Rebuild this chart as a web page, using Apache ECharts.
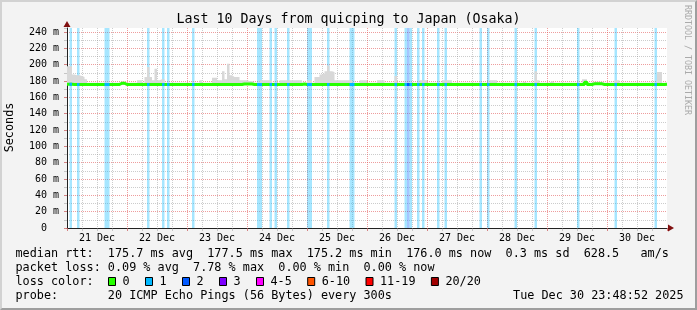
<!DOCTYPE html>
<html><head><meta charset="utf-8">
<script src="https://cdn.jsdelivr.net/npm/echarts@6/dist/echarts.min.js"></script>
<style>
html,body{margin:0;padding:0;background:#f3f3f3;}
#wrap{position:relative;width:697px;height:310px;overflow:hidden;}
#c{width:697px;height:310px;}
#frame{position:absolute;left:0;top:0;width:697px;height:310px;box-sizing:border-box;border-style:solid;border-width:2px;border-color:#d2d2d2 #9e9e9e #9e9e9e #d2d2d2;pointer-events:none;}
</style></head><body>
<div id="wrap"><div id="c"></div><div id="frame"></div></div>
<script>
// ---------------- data ----------------
const dayLabels = ['21 Dec','22 Dec','23 Dec','24 Dec','25 Dec','26 Dec','27 Dec','28 Dec','29 Dec','30 Dec'];
const yTicks = [0,20,40,60,80,100,120,140,160,180,200,220,240];
const yTickLabels = ['0  ','20 m','40 m','60 m','80 m','100 m','120 m','140 m','160 m','180 m','200 m','220 m','240 m'];

// hourly median rtt (ms), 240 hours
const medianRtt = [
175.9,175.9,175.7,175.7,175.7,175.7,175.7,175.7,175.7,175.7,175.7,175.7,175.7,175.7,175.7,175.7,175.7,175.7,175.7,175.7,175.7,177.3,177.3,175.7,
175.7,175.7,175.7,175.7,175.7,175.7,175.7,175.7,175.7,175.7,175.7,175.7,175.7,175.7,175.7,175.7,175.7,175.7,175.7,175.7,175.7,175.7,175.7,175.7,
175.7,175.7,175.7,175.7,175.7,175.7,175.7,175.7,175.7,175.7,175.7,175.7,175.7,175.7,175.7,175.7,175.7,175.7,175.7,175.7,175.7,175.7,176.4,176.4,
176.4,176.4,175.7,175.7,175.7,175.7,175.7,175.7,175.7,175.7,175.7,175.7,175.7,175.7,175.7,175.7,175.7,175.7,175.7,175.7,175.7,175.7,176.3,175.7,
175.7,175.7,175.7,175.7,175.7,175.7,175.7,175.7,175.7,175.7,175.7,175.7,175.7,175.7,175.7,175.7,175.7,175.7,175.7,175.7,175.7,175.7,175.7,175.7,
175.7,175.7,175.7,175.7,175.7,175.7,175.7,175.7,175.7,175.7,175.7,175.7,175.7,175.7,175.7,175.7,175.7,175.7,175.7,175.7,175.7,175.7,175.7,175.7,
175.7,175.7,175.7,175.7,175.7,175.7,175.7,175.7,175.7,175.7,175.7,175.7,175.7,175.7,175.7,175.7,175.7,175.7,175.7,175.7,175.7,175.7,175.7,175.7,
175.7,175.7,175.7,175.7,175.7,175.7,175.7,175.7,175.7,175.7,175.7,175.7,175.7,175.7,175.7,175.7,175.7,175.7,175.7,175.7,175.7,175.7,175.7,175.7,
175.7,175.7,175.7,175.7,175.7,175.7,175.7,175.7,175.7,175.7,175.7,175.7,175.7,175.7,175.7,178.5,175.7,175.7,176.5,176.5,176.5,176.5,175.7,175.7,
175.7,175.7,175.7,175.7,175.7,175.7,175.7,175.7,175.7,175.7,175.7,175.7,175.7,175.7,175.7,175.7,175.7,175.7,175.7,175.7,175.7,175.7,175.7,176.0
];

// hourly top of the smoke (highest ping, ms)
const smokeTop = [
198,198,188,187,187,186,185,182,178,178,178,178,178,178,178,178,178,178,178,178,178,179,179,178,
178,178,178,178,181,181,178,185,197,185,181,195,181,182,182,178,178,178,178,178,178,178,178,178,
178,178,178,178,178,181,178,178,178,178,184,184,181,181,192,182,201,187,185,185,185,181,181,181,
180,180,178,178,178,181,181,181,181,181,178,178,178,181,181,181,181,181,181,181,181,181,178,178,
181,181,178,185,185,188,189,192,199,192,191,181,181,181,181,181,181,181,178,178,178,181,181,181,
178,178,178,178,181,181,181,178,178,178,178,186,178,178,178,178,178,178,178,178,178,181,181,181,
178,178,178,178,178,178,181,181,181,181,178,178,178,178,178,178,178,178,178,178,178,178,178,178,
178,181,181,181,178,178,178,178,178,178,178,178,178,178,179,178,178,178,178,192,181,178,178,178,
178,180,178,178,178,178,178,178,178,178,178,178,178,178,182,182,178,178,179,179,179,179,178,178,
178,178,178,181,181,178,178,178,178,178,178,178,178,178,178,178,178,178,178,178,191,191,178,178
];

// [hour, lost pings out of 20]
const lossEvents = [
[1,1],[4,1],[15,1],[16,1],[32,1],[38,1],[40,1],[50,1],[76,1],[77,1],[81,1],[83,1],[88,1],
[96,1],[97,1],[104,1],[113,1],[114,1],[131,1],[135,1],[136,2],[137,1],[140,1],[142,1],
[148,1],[151,1],[165,1],[168,1],[179,1],[187,1],[204,1],[219,1],[235,1]
];

const lossLegend = ['0','1','2','3','4-5','6-10','11-19','20/20'];
const lossColors = ['#26ff00','#00b8ff','#0059ff','#7e00ff','#ff00ff','#ff5500','#ff0000','#a10000'];

const titleText = 'Last 10 Days from quicping to Japan (Osaka)';
const rttLine = 'median rtt:  175.7 ms avg  177.5 ms max  175.2 ms min  176.0 ms now  0.3 ms sd  628.5   am/s';
const lossLine = 'packet loss: 0.09 % avg  7.78 % max  0.00 % min  0.00 % now';
const probeLine = 'probe:       20 ICMP Echo Pings (56 Bytes) every 300s';
const dateLine = 'Tue Dec 30 23:48:52 2025';

// ---------------- helpers ----------------
const HOURS = 240, YMAX = 244.9, SMOKE_FLOOR = 175;
const GRID = 'rgba(143,143,143,0.46)', MGRID = 'rgba(224,80,80,0.56)';
const FONT = '"DejaVu Sans Mono", monospace';
function lossClass(n){ if(n<=0)return 0; if(n<=3)return n; if(n<=5)return 4; if(n<=10)return 5; if(n<=19)return 6; return 7; }
function rgba(hex,a){ const v=parseInt(hex.slice(1),16); return 'rgba('+(v>>16&255)+','+(v>>8&255)+','+(v&255)+','+a+')'; }
function steps(arr){ const d=[]; arr.forEach((v,i)=>{ d.push([i,v]); d.push([i+1,v]); }); return d; }

// loss background areas (merge consecutive hours of same class)
const areas = [];
lossEvents.slice().sort((a,b)=>a[0]-b[0]).forEach(([h,n])=>{
  const c = lossClass(n), last = areas[areas.length-1];
  if (last && last.end === h && last.c === c) last.end = h+1; else areas.push({start:h,end:h+1,c:c});
});
const markAreaData = areas.map(a=>[{xAxis:a.start, itemStyle:{color:rgba(lossColors[a.c],0.35)}},{xAxis:a.end}]);

// loss-coloured median segments
const lossSeries = [];
for (let c=1;c<lossColors.length;c++){
  const d=[];
  lossEvents.forEach(([h,n])=>{ if(lossClass(n)===c){ d.push([h,medianRtt[h]]); d.push([h+1,medianRtt[h]]); d.push([h+1,null]); } });
  if (d.length) lossSeries.push({type:'line', name:'loss'+c, data:d, xAxisIndex:0, yAxisIndex:0, z:5, silent:true,
    showSymbol:false, symbol:'none', connectNulls:false, lineStyle:{color:lossColors[c], width:3, cap:'butt'}});
}

// ---------------- chart ----------------
const chart = echarts.init(document.getElementById('c'), null, {renderer:'canvas'});
const baseX = {type:'value', min:0, max:HOURS, position:'bottom', gridIndex:0};
const baseY = {type:'value', min:0, max:YMAX, position:'left', gridIndex:0};
const off = {show:false};

function txt(x,y,s,size,align,extra){
  return Object.assign({type:'text', x:x, y:y, silent:true, z:100,
    style:{text:s, fill:'#000', font:size+'px '+FONT, textAlign:align||'left', textVerticalAlign:'middle', align:align||'left', verticalAlign:'middle'}}, extra||{});
}
const graphics = [
  txt(348.5,19.3,titleText,13.3,'center'),
  txt(10,127.5,'Seconds',11.8,'center',{rotation:Math.PI/2}),
  txt(687.5,60,'RRDTOOL / TOBI OETIKER',8.3,'center',{rotation:-Math.PI/2, style:{text:'RRDTOOL / TOBI OETIKER', fill:'#aaaaaa', font:'8.3px '+FONT, textAlign:'center', align:'center', textVerticalAlign:'middle', verticalAlign:'middle'}}),
  txt(15.5,254.3,rttLine,11.8),
  txt(15.5,267.7,lossLine,11.8),
  txt(15.5,281.7,'loss color:',11.8),
  txt(15.5,295.7,probeLine,11.8),
  txt(683.5,295.7,dateLine,11.8,'right')
];
let lx = 108.5;
lossLegend.forEach((lab,i)=>{
  graphics.push({type:'rect', silent:true, z:100, shape:{x:lx, y:277.5, width:7, height:8}, style:{fill:lossColors[i], stroke:'#000', lineWidth:1}});
  graphics.push(txt(lx+14, 281.7, lab, 11.8));
  lx += 14 + lab.length*7.1 + 15.9;
});

const option = {
  animation:false,
  backgroundColor:'#f3f3f3',
  grid:{left:67, top:28, width:600, height:200, show:true, backgroundColor:'#ffffff', borderWidth:0},
  xAxis:[
    Object.assign({}, baseX, {interval:6, axisLine:{show:false, onZero:false}, axisTick:{show:true, length:3, lineStyle:{color:GRID}}, axisLabel:off,
      splitLine:{show:true, showMaxLine:false, lineStyle:{color:['rgba(0,0,0,0)',GRID,GRID,GRID], width:1, type:[1,1]}}}),
    Object.assign({}, baseX, {interval:24, axisLine:{show:false, onZero:false}, axisTick:{show:true, length:3, lineStyle:{color:MGRID}}, axisLabel:off,
      splitLine:{show:true, showMinLine:false, showMaxLine:false, lineStyle:{color:MGRID, width:1, type:[1,1]}}}),
    Object.assign({}, baseX, {interval:12, axisLine:{show:true, onZero:false, lineStyle:{color:'#222', width:1}}, axisTick:off, splitLine:off,
      axisLabel:{show:true, margin:5, fontFamily:FONT, fontSize:10, color:'#000',
        formatter:function(v){ const k=(v-12)/24; return (Number.isInteger(k) && dayLabels[k]) ? dayLabels[k] : ''; }}}),
    Object.assign({}, baseX, {axisLine:{show:true, onZero:false, symbol:['none','triangle'], symbolSize:[7,6], symbolOffset:[0,4], lineStyle:{color:'#801010', width:0}}, axisTick:off, axisLabel:off, splitLine:off})
  ],
  yAxis:[
    Object.assign({}, baseY, {interval:10, axisLine:{show:false, onZero:false}, axisTick:{show:true, length:3, lineStyle:{color:GRID}}, axisLabel:off,
      splitLine:{show:true, showMaxLine:false, lineStyle:{color:['rgba(0,0,0,0)',GRID], width:1, type:[1,1]}}}),
    Object.assign({}, baseY, {interval:20, axisLine:{show:true, onZero:false, lineStyle:{color:'#222', width:1}}, axisTick:{show:true, length:3, lineStyle:{color:MGRID}},
      axisLabel:{show:true, showMaxLabel:false, margin:8, fontFamily:FONT, fontSize:10, color:'#000',
        formatter:function(v){ const k=yTicks.indexOf(v); return k>=0 ? yTickLabels[k] : ''; }},
      splitLine:{show:true, showMinLine:false, showMaxLine:false, lineStyle:{color:MGRID, width:1, type:[1,1]}}}),
    Object.assign({}, baseY, {axisLine:{show:true, onZero:false, symbol:['none','triangle'], symbolSize:[7,6], symbolOffset:[0,4], lineStyle:{color:'#801010', width:0}}, axisTick:off, axisLabel:off, splitLine:off})
  ],
  series:[
    {type:'line', name:'smoke', data:steps(smokeTop), xAxisIndex:0, yAxisIndex:0, z:2, silent:true, showSymbol:false, symbol:'none',
      lineStyle:{width:0, opacity:0}, areaStyle:{color:'#d8d8d8', opacity:1, origin:SMOKE_FLOOR},
      markArea:{silent:true, label:{show:false}, data:markAreaData}},
    {type:'line', name:'median', data:steps(medianRtt), xAxisIndex:0, yAxisIndex:0, z:4, silent:true, showSymbol:false, symbol:'none',
      lineStyle:{color:lossColors[0], width:3, cap:'butt'}}
  ].concat(lossSeries),
  graphic:{elements:graphics}
};
chart.setOption(option);
</script>
</body></html>
